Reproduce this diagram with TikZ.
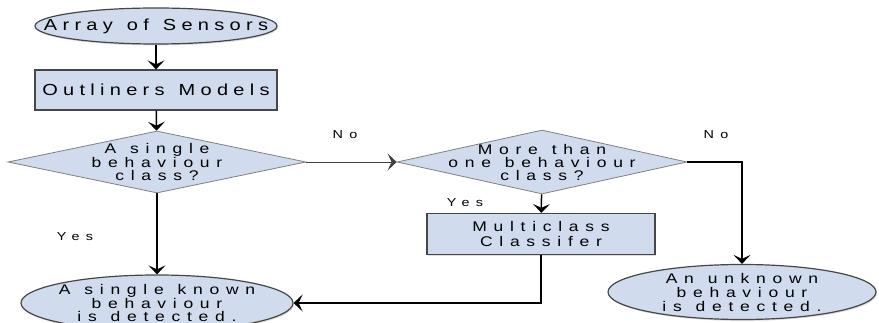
\documentclass[tikz,border=0pt]{standalone}
\usepackage{fontspec}
\newfontfamily\flowfont[LetterSpace=33,FakeStretch=1.25,WordSpace=1.3]{Liberation Sans}
\newfontfamily\boxfont[LetterSpace=48,FakeStretch=1.25,WordSpace=1.2]{Liberation Sans}
\newfontfamily\lblfont[LetterSpace=55,FakeStretch=1.25]{Liberation Sans}
\usetikzlibrary{shapes.geometric,arrows.meta,shadows}
\definecolor{boxfill}{RGB}{208,219,238}
\definecolor{boxline}{RGB}{70,70,70}
\begin{document}
\begin{tikzpicture}[x=1pt,y=-1pt]
\tikzstyle{every node}=[font=\boxfont\fontsize{14}{13}\selectfont]
\tikzstyle{every label}=[align=center]
\tikzstyle{term}=[draw=boxline, line width=1.2pt, ellipse, fill=boxfill, inner sep=0pt,
  drop shadow={shadow xshift=1pt, shadow yshift=-1.5pt, opacity=0.25}]
\tikzstyle{proc}=[draw=boxline, line width=1.2pt, rectangle, fill=boxfill, inner sep=0pt, align=center,
  drop shadow={shadow xshift=1pt, shadow yshift=-1.5pt, opacity=0.25}]
\tikzstyle{decide}=[draw=gray, line width=0.8pt, diamond, fill=boxfill, inner sep=0pt]
\tikzstyle{flow}=[line width=1.5pt, -{Stealth[length=9pt,width=17pt,inset=4pt]}]
\tikzstyle{lbl}=[font=\lblfont\fontsize{11.5}{11.5}\selectfont]
\useasboundingbox (0,0) rectangle (879,323);

\node[term] (sensors) at (156,26) [minimum width=242, minimum height=36,
  label={[font=\flowfont\fontsize{16}{16}\selectfont]center:Array of Sensors}] {};
\node[proc] (models)  at (156,90) [minimum width=242, minimum height=40,
  font=\flowfont\fontsize{16}{16}\selectfont] {Outliners Models};
\node[decide] (single) at (157,162) [minimum width=298, minimum height=62,
  label=center:A single\\behaviour\\class?] {};
\node[decide] (multiq) at (542,162) [minimum width=290, minimum height=64,
  label=center:More than\\one behaviour\\class?] {};
\node[proc] (multi)   at (541,234) [minimum width=228, minimum height=41,
  font=\boxfont\fontsize{14}{15}\selectfont] {Multiclass\\Classifer};
\node[term] (known)   at (157,303) [minimum width=272, minimum height=56,
  label={[font=\boxfont\fontsize{14}{13.5}\selectfont]center:A single known\\behaviour\\is detected.}] {};
\node[term] (unknown) at (742,292) [minimum width=268, minimum height=55,
  label={[font=\boxfont\fontsize{14}{14}\selectfont]center:An unknown\\behaviour\\is detected.}] {};

\node[lbl] (no1)  at (345,135) {No};
\node[lbl] (yes1) at (75,237)  {Yes};
\node[lbl] (yes2) at (465,203) {Yes};
\node[lbl] (no2)  at (716,135) {No};

\draw[flow] (sensors) -- (models);
\draw[flow] (models) -- (single);
\draw[flow] (single) -- (known);
\draw[flow, line width=0.8pt, draw=darkgray] (single.east) -- (multiq.west);
\draw[flow] (multiq) -- (multi);
\draw[flow] (multi.south) |- (known.east);
\draw[flow] (multiq.east) -| (unknown.north);
\end{tikzpicture}
\end{document}
